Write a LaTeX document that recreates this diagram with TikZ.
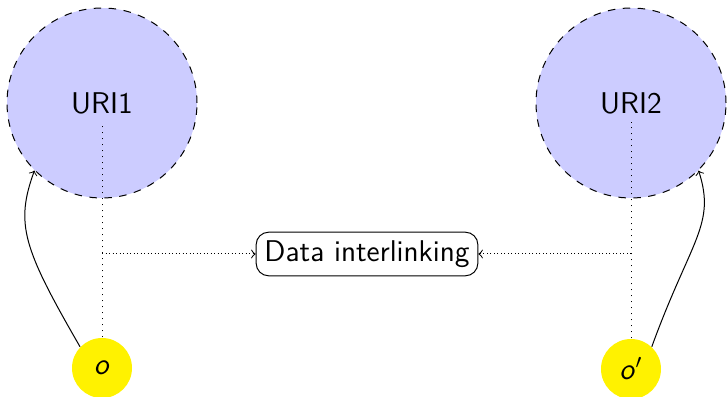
\documentclass[tikz,border=0pt]{standalone}
\usetikzlibrary{arrows}
\begin{document}
\begin{tikzpicture}[x=0.4pt,y=-0.4pt,
  font=\sffamily\large,
  uri/.style={circle,draw,dashed,fill=blue!20,minimum size=76pt,inner sep=0pt},
  obj/.style={circle,fill=yellow,minimum size=24pt,inner sep=0pt},
  task/.style={draw,rounded corners=5pt,inner sep=3.33pt},
  feed/.style={->,densely dotted},
  ref/.style={->}]
  \useasboundingbox (0,0) rectangle (727,397);

  % resources and their objects
  \node[uri] (uri1) at (102,103) {URI1};
  \node[uri] (uri2) at (631,103) {URI2};
  \node[obj] (o1) at (102,368) {\textsl{o}};
  \node[obj] (o2) at (631,369) {\textsl{o}$'$};
  \node[task] (di) at (367,254) {Data interlinking};

  % points on the vertical links
  \coordinate (u1) at (102,122);
  \coordinate (u2) at (631,122);
  \coordinate (m1) at (102,254);
  \coordinate (m2) at (631,254);

  \draw[dotted] (o1) -- (u1);
  \draw[dotted] (o2) -- (u2);
  \draw[feed] (m1) -- (di);
  \draw[feed] (m2) -- (di);

  % object-to-resource references
  \draw[ref] (o1.136) to[out=120,in=250,out looseness=1.6,in looseness=0.8] (uri1.225);
  \draw[ref] (o2.47) to[out=70,in=288,out looseness=1.6,in looseness=0.8] (uri2.315);
\end{tikzpicture}
\end{document}
